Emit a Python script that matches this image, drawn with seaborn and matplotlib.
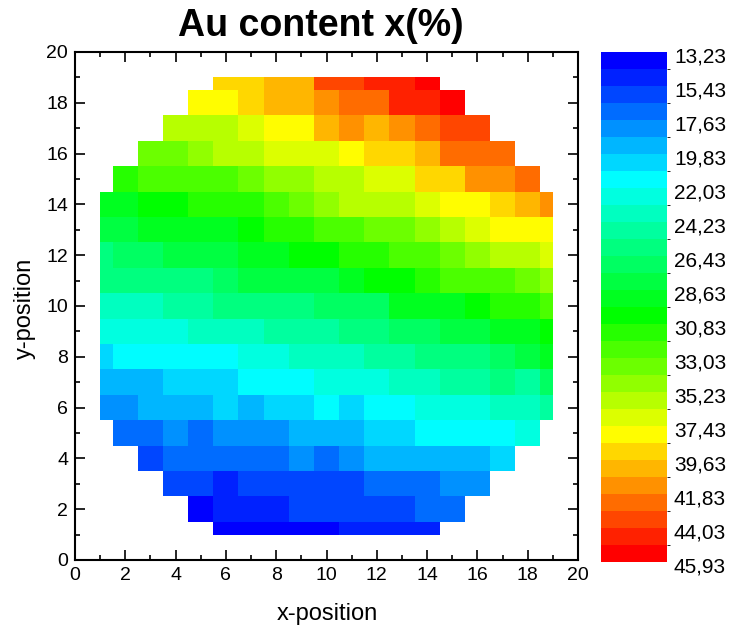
import numpy as np
import pandas as pd
import matplotlib
matplotlib.use("Agg")
import matplotlib.pyplot as plt
import matplotlib.transforms as mtransforms
import seaborn as sns
from matplotlib.colors import ListedColormap, LinearSegmentedColormap, BoundaryNorm
from matplotlib.cm import ScalarMappable
from matplotlib.patches import Rectangle

# ---------------- data (Au content, %) ----------------
x_positions = list(range(1, 20))
y_positions = list(range(1, 20))

# each row: (first x position, values left -> right)
row_y1 = (6, [13.3, 13.8, 13.8, 13.8, 13.8, 14.9, 14.9, 14.9, 14.9])
row_y2 = (5, [13.8, 14.9, 14.9, 14.9, 16.0, 16.0, 16.0, 16.0, 16.0, 17.1, 17.1])
row_y3 = (4, [16.0, 16.0, 14.9, 16.0, 16.0, 16.0, 16.0, 16.0, 17.1, 17.1, 17.1, 18.2, 18.2])
row_y4 = (3, [16.0, 17.1, 17.1, 17.1, 17.1, 17.1, 18.2, 17.1, 18.2, 19.3, 19.3, 19.3, 19.3, 19.3, 20.4])
row_y5 = (2, [17.1, 17.1, 18.2, 17.1, 18.2, 18.2, 18.2, 19.3, 19.3, 19.3, 20.4, 20.4, 21.5, 21.5, 21.5, 21.5, 22.6])
row_y6 = (1, [18.2, 18.2, 19.3, 19.3, 19.3, 20.4, 19.3, 20.4, 20.4, 21.5, 20.4, 21.5, 21.5, 22.6, 22.6, 22.6, 23.7, 23.7, 24.8])
row_y7 = (1, [19.3, 19.3, 19.3, 20.4, 20.4, 20.4, 21.5, 21.5, 21.5, 22.6, 22.6, 22.6, 23.7, 23.7, 24.8, 24.8, 25.9, 24.8, 27.0])
row_y8 = (1, [20.4, 21.5, 21.5, 21.5, 21.5, 21.5, 22.6, 22.6, 23.7, 23.7, 23.7, 24.8, 24.8, 25.9, 25.9, 25.9, 27.0, 28.1, 29.2])
row_y9 = (1, [22.6, 22.6, 22.6, 22.6, 23.7, 23.7, 23.7, 24.8, 24.8, 24.8, 25.9, 25.9, 27.0, 27.0, 28.1, 28.1, 29.2, 29.2, 30.3])
row_y10 = (1, [23.7, 23.7, 23.7, 24.8, 24.8, 25.9, 25.9, 25.9, 25.9, 27.0, 27.0, 27.0, 29.2, 29.2, 29.2, 30.3, 31.4, 31.4, 32.5])
row_y11 = (1, [25.9, 25.9, 25.9, 25.9, 25.9, 27.0, 28.1, 28.1, 28.1, 28.1, 29.2, 30.3, 30.3, 31.4, 32.5, 32.5, 32.5, 33.6, 34.7])
row_y12 = (1, [25.9, 27.0, 27.0, 28.1, 28.1, 28.1, 29.2, 29.2, 30.3, 30.3, 31.4, 31.4, 32.5, 32.5, 33.6, 34.7, 35.8, 35.8, 36.9])
row_y13 = (1, [28.1, 28.1, 29.2, 29.2, 29.2, 29.2, 30.3, 31.4, 31.4, 32.5, 32.5, 33.6, 33.6, 34.7, 35.8, 36.9, 38.0, 38.0, 38.0])
row_y14 = (1, [29.2, 29.2, 30.3, 30.3, 31.4, 31.4, 31.4, 32.5, 33.6, 34.7, 35.8, 35.8, 35.8, 36.9, 38.0, 38.0, 39.1, 40.2, 41.3])
row_y15 = (2, [31.4, 32.5, 32.5, 32.5, 32.5, 33.6, 34.7, 34.7, 35.8, 35.8, 36.9, 36.9, 39.1, 39.1, 41.3, 41.3, 42.4])
row_y16 = (3, [33.6, 33.6, 34.7, 35.8, 35.8, 36.9, 36.9, 36.9, 38.0, 39.1, 39.1, 40.2, 42.4, 42.4, 42.4])
row_y17 = (4, [35.8, 35.8, 35.8, 36.9, 38.0, 38.0, 40.2, 41.3, 40.2, 41.3, 42.4, 43.5, 43.5])
row_y18 = (5, [38.0, 38.0, 39.1, 40.2, 40.2, 41.3, 42.4, 42.4, 44.6, 44.6, 45.7])
row_y19 = (6, [39.1, 39.1, 40.2, 40.2, 43.5, 43.5, 44.6, 44.6, 45.9])

rows = [row_y1, row_y2, row_y3, row_y4, row_y5, row_y6, row_y7, row_y8, row_y9, row_y10,
        row_y11, row_y12, row_y13, row_y14, row_y15, row_y16, row_y17, row_y18, row_y19]

level_min = 13.23
level_step = 1.1
n_levels = 30
level_max = 45.93
cbar_tick_labels = ["13,23", "15,43", "17,63", "19,83", "22,03", "24,23", "26,43", "28,63",
                    "30,83", "33,03", "35,23", "37,43", "39,63", "41,83", "44,03", "45,93"]

# ---------------- build matrix ----------------
mat = np.full((len(y_positions), len(x_positions)), np.nan)
for r, (x0, vals) in enumerate(rows):
    for k, v in enumerate(vals):
        mat[r, x0 - 1 + k] = v
df = pd.DataFrame(mat, index=y_positions, columns=x_positions)

# ---------------- colormap ----------------
base = LinearSegmentedColormap.from_list(
    "origin_rainbow",
    [(0.0, "#0000FF"), (7 / 29, "#00FFFF"), (15 / 29, "#00FF00"),
     (22 / 29, "#FFFF00"), (1.0, "#FF0000")])
colors = [base(k / (n_levels - 1)) for k in range(n_levels)]
cmap = ListedColormap(colors)

# ---------------- figure ----------------
sns.set_style("white")
plt.rcParams["font.family"] = ["Liberation Sans", "DejaVu Sans"]
plt.rcParams["text.color"] = "black"
plt.rcParams["axes.labelcolor"] = "black"
plt.rcParams["xtick.color"] = "black"
plt.rcParams["ytick.color"] = "black"

fig = plt.figure(figsize=(7.32, 6.34), dpi=100)
ax = fig.add_axes([75 / 732, 1 - 560 / 634, 503 / 732, 508 / 634])

sns.heatmap(df, ax=ax, cmap=cmap, vmin=level_min, vmax=level_min + n_levels * level_step,
            cbar=False, xticklabels=False, yticklabels=False)

mesh = ax.collections[0]
clip = Rectangle((0.5, 0.5), 18, 18, transform=ax.transData, facecolor="none", edgecolor="none")
mesh.set_clip_path(clip)

ax.set_xlim(-0.5, 19.5)
ax.set_ylim(-0.5, 19.5)
ax.set_xlabel("")
ax.set_ylabel("")

major = np.arange(-0.5, 20, 2)
minor = np.arange(-0.5, 20, 1)
ax.set_xticks(major)
ax.set_xticklabels([str(int(v + 0.5)) for v in major])
ax.set_yticks(major)
ax.set_yticklabels([str(int(v + 0.5)) for v in major])
ax.set_xticks(minor, minor=True)
ax.set_yticks(minor, minor=True)
for lab in ax.get_yticklabels():
    lab.set_rotation(0)

for s in ax.spines.values():
    s.set_visible(True)
    s.set_linewidth(1.5)
    s.set_color("black")

ax.tick_params(which="both", direction="in", top=True, right=True, bottom=True, left=True,
               color="black", labelcolor="black", width=1.2)
ax.tick_params(which="major", length=7, labelsize=14, pad=5)
ax.tick_params(which="minor", length=3.5)

fig.text(321 / 732, 1 - 26 / 634, "Au content x(%)", ha="center", va="center",
         fontsize=27, fontweight="bold", color="black")
fig.text(327 / 732, 1 - 614 / 634, "x-position", ha="center", va="center", fontsize=17,
         color="black")
fig.text(25 / 732, 1 - 308 / 634, "y-position", ha="center", va="center", fontsize=17,
         rotation=90, color="black")

# ---------------- colorbar ----------------
bounds = [level_min + level_step * k for k in range(n_levels)] + [level_max]
norm = BoundaryNorm(bounds, n_levels)
cax = fig.add_axes([601 / 732, 1 - 561.7 / 634, 66 / 732, 510 / 634])
sm = ScalarMappable(norm=norm, cmap=cmap)
cb = fig.colorbar(sm, cax=cax, boundaries=bounds, spacing="uniform", ticks=bounds[::2])
cb.ax.set_yticklabels(cbar_tick_labels)
cb.outline.set_visible(False)
cb.ax.tick_params(length=0, labelsize=15, pad=5, labelcolor="black")
cb.ax.invert_yaxis()
shift = mtransforms.ScaledTranslation(0, -0.03, fig.dpi_scale_trans)
for lab in cb.ax.get_yticklabels():
    lab.set_transform(lab.get_transform() + shift)

fig.savefig("out.png", dpi=100)
